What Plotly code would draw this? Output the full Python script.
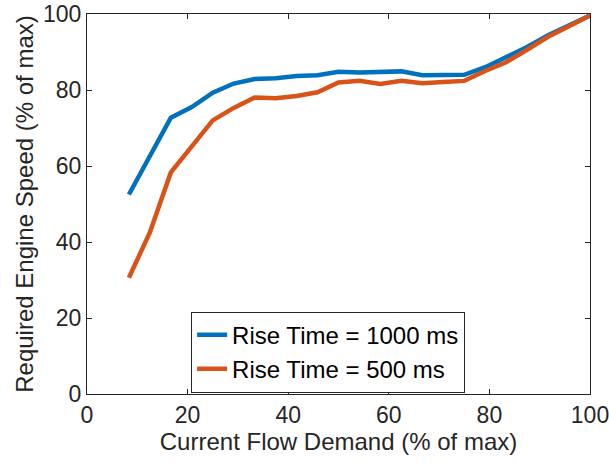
import plotly.graph_objects as go

flow = [8.33, 12.5, 16.67, 20.83, 25, 29.17, 33.33, 37.5, 41.67, 45.83, 50, 54.17,
        58.33, 62.5, 66.67, 70.83, 75, 79.17, 83.33, 87.5, 91.67, 95.83, 100]
speed_1000 = [52.5, 62.5, 72.7, 75.5, 79.3, 81.7, 82.9, 83.1, 83.7, 83.9, 84.8, 84.6,
              84.8, 84.9, 83.9, 84.0, 84.0, 86.0, 88.5, 91.3, 94.4, 97.0, 99.6]
speed_500 = [30.6, 42.5, 58.3, 65.0, 72.0, 75.3, 78.0, 77.8, 78.4, 79.4, 82.0, 82.4,
             81.6, 82.4, 81.8, 82.1, 82.4, 85.0, 87.3, 90.6, 94.0, 96.8, 99.6]
names = ["Rise Time = 1000 ms", "Rise Time = 500 ms"]
x_ticks = [0, 20, 40, 60, 80, 100]
y_ticks = [0, 20, 40, 60, 80, 100]

fig = go.Figure()
fig.add_trace(go.Scatter(x=flow, y=speed_1000, mode="lines", name=names[0],
                         line=dict(color="#0072BD", width=4.5)))
fig.add_trace(go.Scatter(x=flow, y=speed_500, mode="lines", name=names[1],
                         line=dict(color="#D95319", width=4.5)))

axis_common = dict(showgrid=False, zeroline=False, showline=True, linecolor="#262626",
                   linewidth=1, mirror="ticks", ticks="inside", ticklen=5,
                   tickcolor="#262626", tickfont=dict(size=23, color="#262626"),
                   automargin=False, ticklabeloverflow="allow")

fig.update_layout(
    width=609, height=465,
    margin=dict(l=87, r=19, t=14, b=71),
    paper_bgcolor="white", plot_bgcolor="white",
    font=dict(family="Liberation Sans, Arial, sans-serif", color="#262626"),
    xaxis=dict(range=[0, 100], tickvals=x_ticks,
               title=dict(text="Current Flow Demand (% of max)", font=dict(size=24), standoff=4),
               **axis_common),
    yaxis=dict(range=[0, 100], tickvals=y_ticks,
               title=dict(text="Required Engine Speed (% of max)", font=dict(size=24), standoff=2),
               **axis_common),
    legend=dict(x=0.207, y=0.217, xanchor="left", yanchor="top",
                bordercolor="#262626", borderwidth=1, bgcolor="white",
                font=dict(size=24, color="#000000"), tracegroupgap=0),
    showlegend=True,
)

fig.write_html("out.html")
